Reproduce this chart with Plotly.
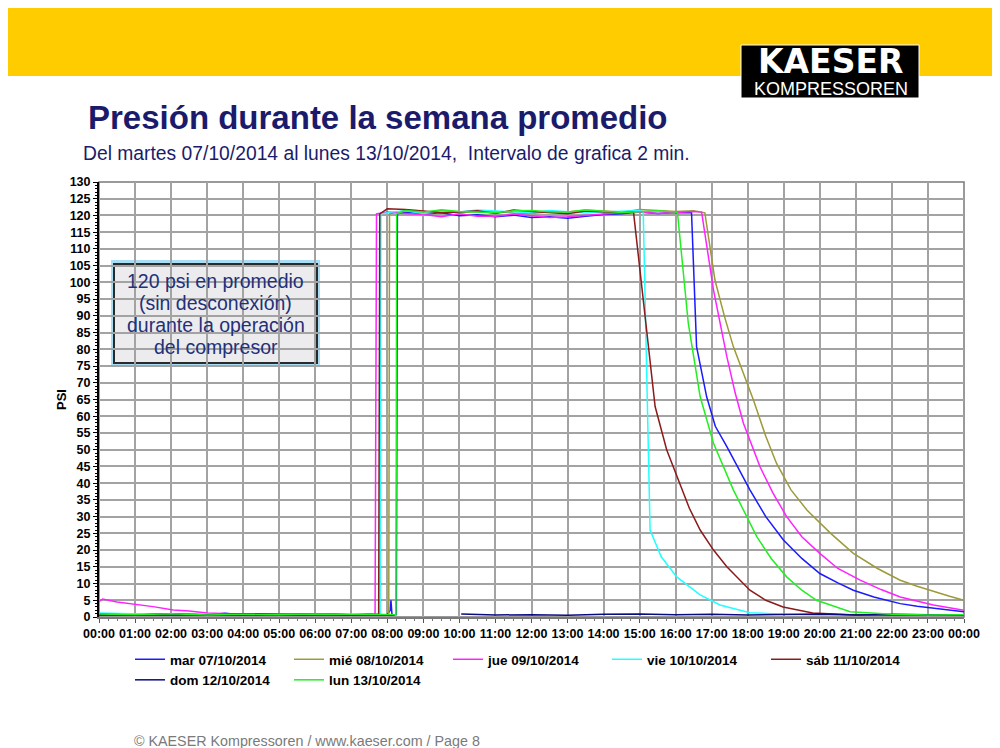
import plotly.graph_objects as go

# ---------------- data ----------------
series_names = ["mar 07/10/2014", "mié 08/10/2014", "jue 09/10/2014", "vie 10/10/2014",
                "sáb 11/10/2014", "dom 12/10/2014", "lun 13/10/2014"]
series_colors = ["#1a1aff", "#9c9a3a", "#ff22ff", "#22ffff", "#8b1a1a", "#0a0a80", "#22ee22"]

mar_t = [0, 0.5, 1, 1.5, 2, 2.5, 3, 3.5, 4, 4.5, 5, 5.5, 6, 6.5, 7, 7.5, 8.0, 8.08, 8.1, 8.13, 8.25, 8.28,
         8.5, 9, 9.5, 10, 10.5, 11, 11.5, 12, 12.5, 13, 13.5, 14, 14.5, 15, 15.5, 16, 16.44,
         16.58, 16.86, 17.1, 17.42, 17.75, 18.06, 18.5, 18.99, 19.5, 20.0, 20.5, 20.93, 21.5, 22.23, 22.7,
         23.15, 23.6, 24]
mar_v = [0.8, 1.0, 0.6, 0.9, 0.9, 0.7, 0.7, 1.1, 0.6, 0.8, 0.8, 0.5, 0.7, 0.9, 0.6, 0.8, 0.7, 2, 5, 0.6, 0.7, 120.5,
         121, 120.4, 120.8, 119.9, 120.2, 119.6, 120.1, 119.4, 119.6, 119.2, 119.8, 120.3, 120.5, 121.0, 120.6, 120.9,
         120.8,
         80.8, 65.8, 57, 50.9, 44, 38, 30, 23, 17.5, 13, 10.2, 8, 6, 4, 3.2, 2.6, 2.1, 1.6]

mie_t = [0, 1, 2, 3, 4, 5, 6, 7, 8, 8.04, 8.06,
         8.5, 9, 9.5, 10, 10.5, 11, 11.5, 12, 12.5, 13, 13.5, 14, 14.5, 15, 15.5, 16, 16.5, 16.81,
         17.09, 17.35, 17.6, 17.9, 18.16, 18.5, 18.8, 19.2, 19.64, 20.3, 20.93, 21.6, 22.23, 22.7, 23.15, 23.6, 24]
mie_v = [0.6, 0.8, 0.5, 0.7, 0.9, 0.6, 0.8, 0.7, 0.6, 0.6, 120.5,
         121.5, 121, 121.4, 120.8, 121.2, 121.2, 120.7, 120.6, 121.1, 121, 121.6, 121.3, 121, 121.8, 121.5, 121.2,
         121.4, 120.8,
         100.7, 90, 80.8, 72, 64.8, 54, 45.9, 38, 32, 25, 19, 14.5, 11, 9.2, 7.6, 6.2, 5]

jue_t = [0, 0.1, 0.5, 1.05, 1.5, 2.06, 2.5, 3, 4, 5, 6, 7, 7.66, 7.7,
         8, 8.5, 9, 9.5, 10, 10.5, 11, 11.5, 12, 12.5, 13, 13.5, 14, 14.5, 15, 15.5, 16, 16.5, 16.72,
         17.05, 17.42, 17.65, 17.88, 18.34, 18.7, 19.08, 19.5, 20.0, 20.5, 21.12, 21.7, 22.23, 23.15, 24]
jue_v = [4.6, 5.4, 4.5, 3.8, 3.1, 2.1, 1.8, 1.2, 0.8, 0.7, 0.9, 0.7, 0.8, 120.5,
         121, 120.6, 120.3, 119.6, 120.5, 119.8, 119.8, 120.4, 120, 119.4, 119.6, 119.9, 120.4, 120.8, 121, 120.6,
         120.8, 121.2, 121,
         97.7, 77.8, 67, 57.9, 44.9, 37, 30, 24, 19, 14.5, 11, 8.2, 6, 3.6, 2]

vie_t = [0, 1, 2, 3, 4, 5, 6, 7, 7.8, 7.82,
         8.1, 8.5, 9, 9.5, 10, 10.5, 11, 11.5, 12, 12.5, 13, 13.5, 14, 14.5, 15, 15.1,
         15.29, 15.6, 16.03, 16.68, 17.23, 18.06, 19, 20, 21, 22, 23, 24]
vie_v = [1.2, 0.9, 0.7, 0.8, 0.6, 0.9, 0.7, 0.8, 0.7, 120.5,
         121, 121.4, 120.6, 121.2, 121, 121.6, 121.3, 120.9, 120.8, 121.5, 121.2, 120.7, 121, 121.3, 121.5, 121,
         26, 18, 12, 6.6, 3.6, 1.3, 0.8, 0.5, 0.7, 0.5, 0.6, 0.5]

sab_t = [0, 1, 2, 3, 4, 5, 6, 7, 7.76, 7.79,
         8, 8.5, 9, 9.5, 10, 10.5, 11, 11.5, 12, 12.5, 13, 13.5, 14, 14.5, 14.83,
         15.2, 15.43, 15.75, 16.07, 16.38, 16.68, 17.05, 17.42, 18.06, 18.5, 18.98, 19.8, 21, 22, 23, 24]
sab_v = [0.8, 0.6, 0.9, 0.7, 1.0, 0.8, 0.9, 0.7, 0.8, 120.5,
         122, 121.8, 121.3, 120.8, 121, 121.4, 120.6, 121.6, 121.2, 120.8, 120.5, 121.3, 121, 120.8, 121,
         85.8, 62.9, 50, 41, 32.5, 26, 20, 15, 8, 5, 3, 1.2, 0.6, 0.7, 0.5, 0.6]

dom_t = [0, 1, 2, 3, 4, 5, 6, 7, 8, 8.2, 9, 10.05, 11, 12, 13, 14, 15, 16, 17, 18, 19, 20, 21, 22, 23, 24]
dom_v = [0.6, 0.5, 0.7, 0.6, 0.5, 0.7, 0.6, 0.5, 0.6, 0.5, None, 0.9, 0.6, 0.7, 0.5, 0.8, 0.9, 0.7, 0.8, 0.6,
         0.7, 0.9, 0.6, 0.8, 0.7, 0.6]

lun_t = [0, 1, 2, 3, 4, 5, 6, 7, 8, 8.24, 8.26,
         8.5, 9, 9.5, 10, 10.5, 11, 11.5, 12, 12.5, 13, 13.5, 14, 14.5, 15, 15.5, 16, 16.05,
         16.35, 16.68, 17.05, 17.6, 18.25, 18.65, 19.08, 19.5, 19.91, 20.84, 22, 23, 24]
lun_v = [0.9, 0.7, 1.0, 0.6, 0.8, 0.7, 0.9, 0.8, 0.6, 0.7, 120.5,
         121.5, 121, 121.7, 121.2, 120.9, 120.8, 121.4, 121.5, 121.1, 121, 121.6, 121.3, 120.9, 121.1, 121.4, 121,
         120.8,
         87.8, 65.8, 51.9, 38, 24, 17.5, 12, 8, 5, 1.6, 0.8, 0.6, 0.7]

series_t = [mar_t, mie_t, jue_t, vie_t, sab_t, dom_t, lun_t]
series_v = [mar_v, mie_v, jue_v, vie_v, sab_v, dom_v, lun_v]

x_tickvals = list(range(0, 25))
x_ticktext = ["00:00", "01:00", "02:00", "03:00", "04:00", "05:00", "06:00", "07:00", "08:00", "09:00",
              "10:00", "11:00", "12:00", "13:00", "14:00", "15:00", "16:00", "17:00", "18:00", "19:00",
              "20:00", "21:00", "22:00", "23:00", "00:00"]
y_tickvals = list(range(0, 131, 5))

title_text = "Presión durante la semana promedio"
subtitle_text = "Del martes 07/10/2014 al lunes 13/10/2014,  Intervalo de grafica 2 min."
box_lines = ["120 psi en promedio", "(sin desconexión)", "durante la operación", "del compresor"]
footer_text = "© KAESER Kompressoren / www.kaeser.com / Page 8"

# ---------------- layout helpers (reference pixel -> paper) ----------------
OFF = 8                      # the page body adds an 8 px margin
W, H = 1000 - OFF, 748 - OFF
PL, PR, PT, PB = 99, 964, 182, 617   # plot area in reference pixels


def px(x):
    return (x - PL) / (PR - PL)


def py(y):
    return (PB - y) / (PB - PT)


FONT = "Liberation Sans, Arial, Helvetica, sans-serif"
NAVY = "#1b1b6b"

fig = go.Figure()
for name, color, t, v in zip(series_names, series_colors, series_t, series_v):
    fig.add_trace(go.Scatter(x=t, y=v, name=name, mode="lines",
                             line=dict(color=color, width=1.5), connectgaps=False))

shapes = [
    dict(type="rect", xref="paper", yref="paper", x0=px(8), x1=px(1000), y0=py(76), y1=py(8),
         fillcolor="#ffcc00", line=dict(width=0), layer="below"),
    dict(type="rect", xref="paper", yref="paper", x0=px(741), x1=px(919), y0=py(98), y1=py(45),
         fillcolor="#000000", line=dict(color="#ffffff", width=1), layer="above"),
    dict(type="rect", xref="paper", yref="paper", x0=0, x1=1, y0=0, y1=1,
         line=dict(color="#7a7a7a", width=1.5), layer="between"),
    dict(type="rect", xref="paper", yref="paper", x0=px(108), x1=px(324), y0=py(372), y1=py(255),
         fillcolor="#ffffff", line=dict(width=0), layer="between"),
    dict(type="rect", xref="paper", yref="paper", x0=px(111), x1=px(320), y0=py(367), y1=py(260),
         fillcolor="#a8def5", line=dict(width=0), layer="between"),
    dict(type="rect", xref="paper", yref="paper", x0=px(114), x1=px(317), y0=py(363), y1=py(264),
         fillcolor="#ececef", line=dict(color="#2a2a2a", width=2), layer="between"),
]

annotations = [
    dict(text=title_text, xref="paper", yref="paper", x=px(86), y=py(117), xanchor="left", yanchor="middle",
         showarrow=False, font=dict(family=FONT, size=33, color=NAVY, weight="bold")),
    dict(text=subtitle_text, xref="paper", yref="paper", x=px(81), y=py(153), xanchor="left", yanchor="middle",
         showarrow=False, font=dict(family=FONT, size=19.3, color=NAVY)),
    dict(text="KAESER", xref="paper", yref="paper", x=px(830), y=py(62), xanchor="center", yanchor="middle",
         showarrow=False, font=dict(family="DejaVu Sans, sans-serif", size=33, color="#ffffff", weight="bold")),
    dict(text="KOMPRESSOREN", xref="paper", yref="paper", x=px(831), y=py(89.5), xanchor="center",
         yanchor="middle", showarrow=False, font=dict(family=FONT, size=18, color="#ffffff")),
    dict(text="PSI", xref="paper", yref="paper", x=px(61), y=py(400), xanchor="center", yanchor="middle",
         textangle=-90, showarrow=False, font=dict(family=FONT, size=13, color="#000000", weight="bold")),
    dict(text=footer_text, xref="paper", yref="paper", x=px(132), y=py(741), xanchor="left", yanchor="middle",
         showarrow=False, font=dict(family=FONT, size=14.3, color="#7a7a7a")),
]
for i, line in enumerate(box_lines):
    annotations.append(dict(text=line, xref="paper", yref="paper", x=px(215.5), y=py(281 + 22 * i),
                            xanchor="center", yanchor="middle", showarrow=False,
                            font=dict(family=FONT, size=19.5, color="#23307a")))

fig.update_layout(
    width=W, height=H,
    margin=dict(l=PL - OFF, r=W - (PR - OFF), t=PT - OFF, b=H - (PB - OFF), pad=0),
    paper_bgcolor="#ffffff", plot_bgcolor="#ffffff",
    font=dict(family=FONT, color="#000000"),
    showlegend=True,
    legend=dict(orientation="h", x=px(130), y=py(644), xanchor="left", yanchor="top",
                font=dict(family=FONT, size=13.5, color="#000000", weight="bold"),
                entrywidth=114, entrywidthmode="pixels", itemwidth=30,
                bgcolor="rgba(0,0,0,0)", tracegroupgap=0, traceorder="normal"),
    shapes=shapes,
    annotations=annotations,
)

fig.update_xaxes(range=[0, 24], tickvals=x_tickvals, ticktext=x_ticktext,
                 showgrid=True, gridcolor="#a3a3a3", gridwidth=1.5,
                 showline=True, linecolor="#7a7a7a", linewidth=2,
                 ticks="outside", ticklen=4, tickcolor="#555555",
                 minor=dict(dtick=0.25, ticks="outside", ticklen=2, tickcolor="#777777", showgrid=False),
                 tickfont=dict(family=FONT, size=12.5, color="#000000", weight="bold"),
                 zeroline=False, fixedrange=True)
fig.update_yaxes(range=[0, 130], tickvals=y_tickvals,
                 showgrid=True, gridcolor="#a3a3a3", gridwidth=1.5,
                 showline=True, linecolor="#000000", linewidth=2,
                 ticks="outside", ticklen=4, tickcolor="#000000",
                 minor=dict(dtick=1, ticks="outside", ticklen=2, tickcolor="#000000", showgrid=False),
                 tickfont=dict(family=FONT, size=12.5, color="#000000", weight="bold"),
                 zeroline=False, fixedrange=True)

fig.write_html("out.html")
